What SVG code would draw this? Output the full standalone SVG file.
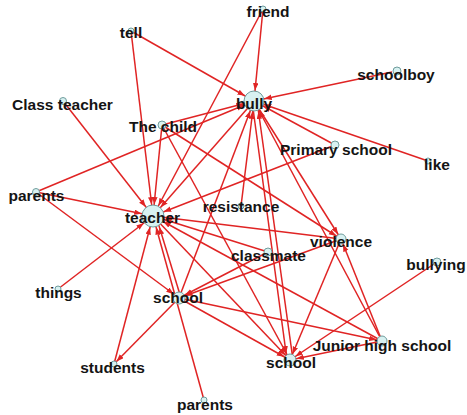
<svg xmlns="http://www.w3.org/2000/svg" width="467" height="415" viewBox="0 0 467 415">
<style>
.e{stroke:#e02424;stroke-width:1.5;fill:none}
.n{fill:#d8f1f1;stroke:#6f9c9c;stroke-width:1}
.t{font-family:"Liberation Sans",Arial,sans-serif;font-weight:bold;font-size:15.5px;fill:#141414;text-anchor:middle}
</style>
<defs>
<marker id="a11" markerUnits="userSpaceOnUse" markerWidth="8" markerHeight="6" refX="19" refY="2.75" orient="auto"><path d="M0,0 L7.5,2.75 L0,5.5 z" fill="#e02424"/></marker>
<marker id="a10" markerUnits="userSpaceOnUse" markerWidth="8" markerHeight="6" refX="18" refY="2.75" orient="auto"><path d="M0,0 L7.5,2.75 L0,5.5 z" fill="#e02424"/></marker>
<marker id="a6" markerUnits="userSpaceOnUse" markerWidth="8" markerHeight="6" refX="14" refY="2.75" orient="auto"><path d="M0,0 L7.5,2.75 L0,5.5 z" fill="#e02424"/></marker>
<marker id="a5" markerUnits="userSpaceOnUse" markerWidth="8" markerHeight="6" refX="13" refY="2.75" orient="auto"><path d="M0,0 L7.5,2.75 L0,5.5 z" fill="#e02424"/></marker>
<marker id="a4" markerUnits="userSpaceOnUse" markerWidth="8" markerHeight="6" refX="11" refY="2.75" orient="auto"><path d="M0,0 L7.5,2.75 L0,5.5 z" fill="#e02424"/></marker>
</defs>
<g id="edges">
<line class="e" x1="131" y1="31" x2="254" y2="101" marker-end="url(#a10)"/>
<line class="e" x1="131" y1="31" x2="153" y2="216" marker-end="url(#a11)"/>
<line class="e" x1="263" y1="9" x2="254" y2="101" marker-end="url(#a10)"/>
<line class="e" x1="263" y1="9" x2="153" y2="216" marker-end="url(#a11)"/>
<line class="e" x1="392" y1="72" x2="254" y2="101" marker-end="url(#a10)"/>
<line class="e" x1="428" y1="161" x2="254" y2="101" marker-end="url(#a10)"/>
<line class="e" x1="335" y1="145" x2="254" y2="101" marker-end="url(#a10)"/>
<line class="e" x1="335" y1="145" x2="153" y2="216" marker-end="url(#a11)"/>
<line class="e" x1="63" y1="101" x2="153" y2="216" marker-end="url(#a11)"/>
<line class="e" x1="162" y1="125" x2="153" y2="216" marker-end="url(#a11)"/>
<line class="e" x1="162" y1="125" x2="254" y2="101" marker-end="url(#a10)"/>
<line class="e" x1="162" y1="125" x2="341" y2="239" marker-end="url(#a5)"/>
<line class="e" x1="162" y1="125" x2="290" y2="360" marker-end="url(#a6)"/>
<line class="e" x1="36" y1="192" x2="153" y2="216" marker-end="url(#a11)"/>
<line class="e" x1="36" y1="192" x2="254" y2="101" marker-end="url(#a10)"/>
<line class="e" x1="36" y1="192" x2="179" y2="298" marker-end="url(#a6)"/>
<line class="e" x1="58" y1="289" x2="153" y2="216" marker-end="url(#a11)"/>
<line class="e" x1="114" y1="364" x2="153" y2="216" marker-end="url(#a11)"/>
<line class="e" x1="179" y1="298" x2="114" y2="364" marker-end="url(#a4)"/>
<line class="e" x1="204" y1="400" x2="153" y2="216" marker-end="url(#a11)"/>
<line class="e" x1="181" y1="298" x2="156" y2="216" marker-end="url(#a11)"/>
<line class="e" x1="179" y1="298" x2="254" y2="101" marker-end="url(#a10)"/>
<line class="e" x1="241" y1="206" x2="254" y2="101" marker-end="url(#a10)"/>
<line class="e" x1="254" y1="101" x2="153" y2="216" marker-end="url(#a11)"/>
<line class="e" x1="341" y1="239" x2="153" y2="216" marker-end="url(#a11)"/>
<line class="e" x1="268" y1="252" x2="153" y2="216" marker-end="url(#a11)"/>
<line class="e" x1="382" y1="341" x2="153" y2="216" marker-end="url(#a11)"/>
<line class="e" x1="153" y1="216" x2="290" y2="360" marker-end="url(#a6)"/>
<line class="e" x1="268" y1="252" x2="179" y2="298" marker-end="url(#a6)"/>
<line class="e" x1="341" y1="239" x2="179" y2="298" marker-end="url(#a6)"/>
<line class="e" x1="179" y1="298" x2="382" y2="341" marker-end="url(#a5)"/>
<line class="e" x1="179" y1="298" x2="290" y2="360" marker-end="url(#a6)"/>
<line class="e" x1="254" y1="101" x2="341" y2="239" marker-end="url(#a5)"/>
<line class="e" x1="382" y1="341" x2="254" y2="101" marker-end="url(#a10)"/>
<line class="e" x1="252" y1="101" x2="287" y2="360" marker-end="url(#a6)"/>
<line class="e" x1="293" y1="360" x2="257" y2="101" marker-end="url(#a10)"/>
<line class="e" x1="341" y1="239" x2="290" y2="360" marker-end="url(#a6)"/>
<line class="e" x1="382" y1="341" x2="341" y2="239" marker-end="url(#a5)"/>
<line class="e" x1="382" y1="341" x2="290" y2="360" marker-end="url(#a6)"/>
<line class="e" x1="437" y1="262" x2="290" y2="360" marker-end="url(#a6)"/>
</g>
<g id="n-tell"><circle class="n" cx="131" cy="31" r="3"/><text class="t" x="131" y="38">tell</text></g>
<g id="n-friend"><circle class="n" cx="263" cy="9" r="3"/><text class="t" x="268" y="17">friend</text></g>
<g id="n-schoolboy"><circle class="n" cx="397" cy="71" r="4"/><text class="t" x="396" y="80">schoolboy</text></g>
<g id="n-like"><circle class="n" cx="428" cy="161" r="3"/><text class="t" x="437" y="170">like</text></g>
<g id="n-primary"><circle class="n" cx="335" cy="145" r="4"/><text class="t" x="336" y="155">Primary school</text></g>
<g id="n-classteacher"><circle class="n" cx="63" cy="101" r="3.5"/><text class="t" x="62.5" y="110">Class teacher</text></g>
<g id="n-thechild"><circle class="n" cx="162" cy="125" r="4"/><text class="t" x="163" y="132">The child</text></g>
<g id="n-parents1"><circle class="n" cx="36" cy="192" r="3.5"/><text class="t" x="36.5" y="201">parents</text></g>
<g id="n-resistance"><circle class="n" cx="241" cy="206" r="3"/><text class="t" x="241" y="212">resistance</text></g>
<g id="n-classmate"><circle class="n" cx="268" cy="252" r="4"/><text class="t" x="268.5" y="261">classmate</text></g>
<g id="n-violence"><circle class="n" cx="341" cy="239" r="5"/><text class="t" x="341" y="247">violence</text></g>
<g id="n-bullying"><circle class="n" cx="437" cy="262" r="4"/><text class="t" x="436" y="270">bullying</text></g>
<g id="n-things"><circle class="n" cx="58" cy="289" r="3"/><text class="t" x="58.5" y="298">things</text></g>
<g id="n-students"><circle class="n" cx="114" cy="364" r="3"/><text class="t" x="112.5" y="373">students</text></g>
<g id="n-parents2"><circle class="n" cx="204" cy="400" r="3"/><text class="t" x="205" y="410">parents</text></g>
<g id="n-jhs"><circle class="n" cx="382" cy="341" r="5"/><text class="t" x="382" y="351">Junior high school</text></g>
<g id="n-school1"><circle class="n" cx="179" cy="298" r="6"/><text class="t" x="178" y="303">school</text></g>
<g id="n-school2"><circle class="n" cx="290" cy="360" r="6"/><text class="t" x="291" y="368">school</text></g>
<g id="n-teacher"><circle class="n" cx="153" cy="216" r="11"/><text class="t" x="152.5" y="223">teacher</text></g>
<g id="n-bully"><circle class="n" cx="254" cy="101" r="10"/><text class="t" x="254" y="109">bully</text></g>
</svg>
